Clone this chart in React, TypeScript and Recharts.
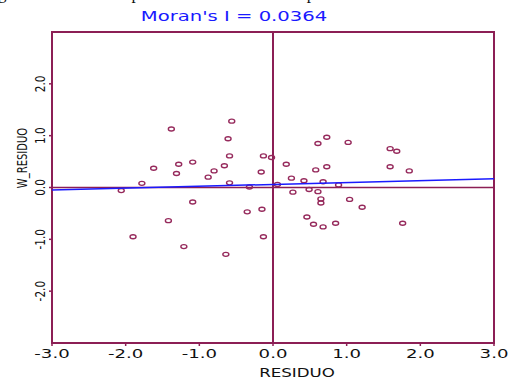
import React from "react";
import {
  ScatterChart,
  Scatter,
  XAxis,
  YAxis,
  ReferenceLine,
  ReferenceArea,
} from "recharts";

const residuo = [
  -2.06, -1.78, -1.9, -1.62, -1.38, -1.42, -1.28, -1.31, -1.21, -1.09, -1.09,
  -0.88, -0.8, -0.66, -0.61, -0.56, -0.59, -0.59, -0.64, -0.32, -0.35, -0.13,
  -0.16, -0.15, -0.13, -0.02, 0.06, 0.18, 0.25, 0.27, 0.42, 0.49, 0.61, 0.58,
  0.61, 0.73, 0.73, 0.68, 0.65, 0.65, 0.46, 0.55, 0.68, 0.85, 0.89, 1.02, 1.04,
  1.21, 1.59, 1.68, 1.59, 1.85, 1.76,
];
const wResiduo = [
  -0.06, 0.08, -0.95, 0.37, 1.13, -0.64, 0.45, 0.27, -1.14, 0.49, -0.28, 0.2,
  0.32, 0.42, 0.94, 1.28, 0.61, 0.09, -1.29, 0.01, -0.47, 0.61, 0.3, -0.42,
  -0.95, 0.58, 0.06, 0.45, 0.18, -0.09, 0.13, -0.04, -0.08, 0.34, 0.85, 0.97,
  0.4, 0.11, -0.22, -0.3, -0.57, -0.71, -0.76, -0.69, 0.05, 0.87, -0.23, -0.38,
  0.75, 0.7, 0.4, 0.32, -0.69,
];
const fitX = [-3, 3];
const fitY = [-0.049, 0.169];
const xTicks = [-3, -2, -1, 0, 1, 2, 3];
const yTicks = [-2, -1, 0, 1, 2];
const title = "Moran's I = 0.0364";
const xLabel = "RESIDUO";
const yLabel = "W_RESIDUO";
const captionText = "gráfica de dispersión de Moran para los residuos de";

const points = residuo.map((x, i) => ({ x, y: wResiduo[i] }));
const fitLine = fitX.map((x, i) => ({ x, y: fitY[i] }));

const MAROON = "#8c1f55";
const POINT = "#962a5c";
const BLUE = "#1a1aff";
const FONT = "'DejaVu Sans', Verdana, sans-serif";

const XTick = (props: any) => {
  const { x, payload } = props;
  return (
    <g transform={`translate(${x},354) scale(1.45,1)`}>
      <text
        textAnchor="middle"
        dominantBaseline="central"
        fontFamily={FONT}
        fontSize={12.5}
        fill="#111"
      >
        {Number(payload.value).toFixed(1)}
      </text>
    </g>
  );
};

const YTick = (props: any) => {
  const { y, payload } = props;
  return (
    <g transform={`translate(40,${y}) scale(1.4,1) rotate(-90)`}>
      <text
        textAnchor="middle"
        dominantBaseline="central"
        fontFamily={FONT}
        fontSize={10.5}
        fill="#111"
      >
        {Number(payload.value).toFixed(1)}
      </text>
    </g>
  );
};

const PointShape = (props: any) => {
  const { cx, cy } = props;
  if (cx == null || cy == null) return <g />;
  return (
    <ellipse
      cx={cx}
      cy={cy}
      rx={3}
      ry={2}
      fill="none"
      stroke={POINT}
      strokeWidth={1.4}
    />
  );
};

const NoShape = () => <g />;

export default function App() {
  return (
    <div
      style={{
        position: "absolute",
        left: 0,
        top: 0,
        width: 513,
        height: 383,
        background: "#fff",
        overflow: "hidden",
      }}
    >
      <div
        style={{
          position: "absolute",
          left: -2,
          top: -16,
          fontFamily: "'Liberation Serif', serif",
          fontSize: 17,
          whiteSpace: "nowrap",
          color: "#111",
          letterSpacing: 3,
        }}
      >
        {captionText}
      </div>
      <ScatterChart
        width={513}
        height={383}
        margin={{ top: 32, right: 19, bottom: 0, left: 0 }}
      >
        <XAxis
          type="number"
          dataKey="x"
          domain={[-3, 3]}
          ticks={xTicks}
          allowDataOverflow
          height={40}
          axisLine={false}
          tickLine={{ stroke: MAROON, strokeWidth: 1.5 }}
          tickSize={3}
          tick={<XTick />}
          label={{
            content: () => (
              <g transform="translate(297,373) scale(1.45,1)">
                <text
                  textAnchor="middle"
                  dominantBaseline="central"
                  fontFamily={FONT}
                  fontSize={11.5}
                  fill="#111"
                >
                  {xLabel}
                </text>
              </g>
            ),
          }}
        />
        <YAxis
          type="number"
          dataKey="y"
          domain={[-3, 3]}
          ticks={yTicks}
          allowDataOverflow
          width={52}
          axisLine={false}
          tickLine={{ stroke: MAROON, strokeWidth: 1.5 }}
          tickSize={3}
          tick={<YTick />}
          label={{
            content: () => (
              <g transform="translate(22,158) scale(1.4,1) rotate(-90)">
                <text
                  textAnchor="middle"
                  dominantBaseline="central"
                  fontFamily={FONT}
                  fontSize={10}
                  fill="#111"
                >
                  {yLabel}
                </text>
              </g>
            ),
          }}
        />
        <ReferenceLine y={0} stroke={MAROON} strokeWidth={1.5} />
        <ReferenceLine x={0} stroke={MAROON} strokeWidth={2} />
        <Scatter
          data={points}
          shape={<PointShape />}
          isAnimationActive={false}
        />
        <Scatter
          data={fitLine}
          line={{ stroke: BLUE, strokeWidth: 1.5 }}
          shape={<NoShape />}
          isAnimationActive={false}
        />
        <ReferenceArea
          x1={-3}
          x2={3}
          y1={-3}
          y2={3}
          fill="none"
          fillOpacity={0}
          stroke={MAROON}
          strokeWidth={2}
        />
      </ScatterChart>
      <div
        style={{
          position: "absolute",
          left: 234,
          top: 16,
          transform: "translate(-50%,-50%) scale(1.4,1)",
          fontFamily: FONT,
          fontSize: 14,
          color: BLUE,
          whiteSpace: "nowrap",
          lineHeight: 1,
        }}
      >
        {title}
      </div>
    </div>
  );
}
